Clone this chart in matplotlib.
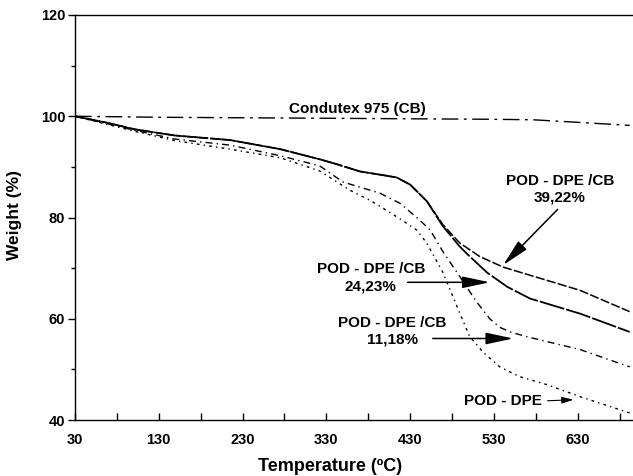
import matplotlib
matplotlib.use("Agg")
import matplotlib.pyplot as plt
from matplotlib.ticker import MultipleLocator, FixedLocator

plt.rcParams['font.family'] = ['Liberation Sans', 'DejaVu Sans']
plt.rcParams['font.weight'] = 'bold'

# TGA curves: temperature (C) vs residual weight (%)
temp_cb = [30, 130, 330, 530, 577, 630, 692]
weight_cb = [100.0, 99.8, 99.6, 99.4, 99.3, 98.8, 98.2]

temp_3922 = [30, 66, 102, 149, 215, 275, 322, 341, 370, 400, 414, 430, 450, 469, 489, 513, 541, 633, 692]
weight_3922 = [100.0, 98.8, 97.4, 96.2, 95.3, 93.5, 91.5, 90.6, 89.1, 88.3, 87.9, 86.5, 83.2, 78.6, 75.0, 72.3, 70.2, 65.6, 61.4]

temp_2423 = [30, 66, 102, 149, 215, 275, 322, 341, 370, 400, 414, 430, 450, 469, 489, 498, 522, 546, 573, 633, 692]
weight_2423 = [100.0, 98.8, 97.4, 96.2, 95.3, 93.5, 91.5, 90.6, 89.1, 88.3, 87.9, 86.5, 83.2, 78.3, 74.3, 72.8, 69.1, 66.3, 64.0, 61.0, 57.4]

temp_1118 = [30, 66, 102, 149, 215, 275, 322, 350, 374, 394, 418, 442, 454, 469, 489, 509, 525, 537, 551, 573, 633, 692]
weight_1118 = [100.0, 98.6, 97.2, 95.5, 94.3, 92.2, 90.2, 87.0, 85.8, 84.8, 82.8, 79.4, 77.5, 73.3, 68.4, 63.4, 60.0, 58.3, 57.3, 56.3, 53.9, 50.5]

temp_dpe = [30, 66, 102, 149, 215, 275, 322, 358, 382, 402, 421, 438, 450, 469, 486, 501, 517, 537, 560, 593, 633, 692]
weight_dpe = [100.0, 98.5, 97.0, 95.2, 93.5, 91.8, 89.2, 85.4, 83.4, 81.4, 79.4, 77.5, 74.9, 69.2, 62.4, 56.5, 53.4, 50.5, 48.6, 47.0, 44.6, 41.4]

x_ticks = [30, 130, 230, 330, 430, 530, 630]
y_ticks = [40, 60, 80, 100, 120]

fig = plt.figure(figsize=(6.33, 4.76), dpi=100)
ax = fig.add_axes([75 / 633, 56 / 476, 558 / 633, 405 / 476])

ax.plot(temp_cb, weight_cb, color='black', lw=1.0, ls=(0, (12, 4, 2, 4)))
ax.plot(temp_3922, weight_3922, color='black', lw=1.1, ls=(0, (6, 1.5)))
ax.plot(temp_2423, weight_2423, color='black', lw=1.3, ls=(0, (14, 1.2)))
ax.plot(temp_1118, weight_1118, color='black', lw=1.0, ls=(0, (5, 3, 1, 3)))
ax.plot(temp_dpe, weight_dpe, color='black', lw=1.0, ls=(0, (2, 3, 1, 3)))

ax.set_xlim(30, 696)
ax.set_ylim(40, 120)

ax.xaxis.set_major_locator(FixedLocator(x_ticks))
ax.xaxis.set_minor_locator(FixedLocator([80, 180, 280, 380, 480, 580, 680]))
ax.yaxis.set_major_locator(FixedLocator(y_ticks))
ax.yaxis.set_minor_locator(MultipleLocator(10))

ax.tick_params(axis='x', which='both', direction='in', length=5, width=1, pad=9, labelsize=10.5)
ax.tick_params(axis='y', which='major', direction='out', length=5, width=1, pad=2, labelsize=10.5)
ax.tick_params(axis='y', which='minor', direction='out', length=3, width=1)

for lab in ax.get_xticklabels() + ax.get_yticklabels():
    lab.set_fontweight('bold')

ax.spines['right'].set_visible(False)
for side in ['left', 'top', 'bottom']:
    ax.spines[side].set_linewidth(1.0)

ax.set_xlabel('Temperature (ºC)', fontsize=13, fontweight='bold')
ax.xaxis.set_label_coords(0.457, -0.093)
ax.set_ylabel('Weight (%)', fontsize=12.5, fontweight='bold')
ax.yaxis.set_label_coords(-0.095, 0.505)

txt = dict(fontsize=11, fontweight='bold', ha='center', va='center',
           multialignment='center', linespacing=1.25)

ax.text(367, 101.5, 'Condutex 975 (CB)', **txt)

big_head = dict(arrowstyle='-|>,head_length=1.4,head_width=0.3', color='black',
                lw=1.1, mutation_scale=12, shrinkA=0, shrinkB=0)
small_head = dict(arrowstyle='-|>,head_length=0.7,head_width=0.2', color='black',
                  lw=0.8, mutation_scale=10, shrinkA=0, shrinkB=0)

ax.text(609, 85.6, 'POD - DPE /CB\n39,22%', **txt)
ax.annotate('', xy=(541, 70.6), xytext=(606, 81.6), arrowprops=big_head)

ax.text(383, 68.1, 'POD - DPE /CB\n24,23%', **txt)
ax.annotate('', xy=(525, 67.2), xytext=(427, 67.2), arrowprops=big_head)

ax.text(409, 57.5, 'POD - DPE /CB\n11,18%', **txt)
ax.annotate('', xy=(553, 56.1), xytext=(457, 56.1), arrowprops=big_head)

ax.text(541, 43.7, 'POD - DPE', **txt)
ax.annotate('', xy=(625, 44.0), xytext=(594, 43.8), arrowprops=small_head)

fig.savefig('out.png', dpi=100, facecolor='white')
